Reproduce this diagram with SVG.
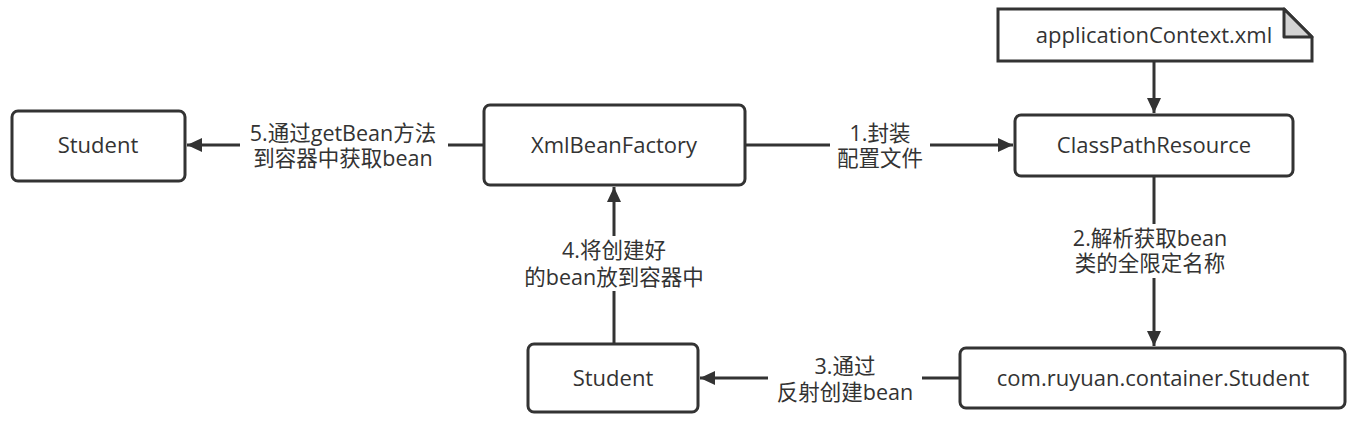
<svg xmlns="http://www.w3.org/2000/svg" width="1358" height="423" viewBox="0 0 1358 423">
<style>
.node{fill:#fff;stroke:#333;stroke-width:3}
.t{font-family:"Open Sans","Noto Sans CJK SC",sans-serif;font-size:22px;fill:#333;text-anchor:middle}
.edge{stroke:#333;stroke-width:3;fill:none}
.lbl{font-family:"Open Sans","Noto Sans CJK SC",sans-serif;font-size:21.5px;fill:#333;text-anchor:middle}
</style>
<defs>
<marker id="ah" markerUnits="userSpaceOnUse" markerWidth="16" markerHeight="16" refX="15" refY="8" orient="auto">
<path d="M0,1 L15,8 L0,15 Z" fill="#333"/>
</marker>
</defs>
<rect width="1358" height="423" fill="#fff"/>
<g id="edges">
<path class="edge" d="M1154,61 V113" marker-end="url(#ah)"/>
<path class="edge" d="M745,145 H1013" marker-end="url(#ah)"/>
<path class="edge" d="M1154,176 V346" marker-end="url(#ah)"/>
<path class="edge" d="M960,378 H700" marker-end="url(#ah)"/>
<path class="edge" d="M614,344 V187" marker-end="url(#ah)"/>
<path class="edge" d="M484,145 H187" marker-end="url(#ah)"/>
<g id="label1"><rect x="830" y="119" width="100" height="54" fill="#fff"/><text class="lbl" x="880" y="141">1.封装</text><text class="lbl" x="880" y="166">配置文件</text></g>
<g id="label2"><rect x="1060" y="224" width="186" height="54" fill="#fff"/><text class="lbl" x="1150" y="246">2.解析获取bean</text><text class="lbl" x="1150" y="271">类的全限定名称</text></g>
<g id="label3"><rect x="768" y="352" width="154" height="56" fill="#fff"/><text class="lbl" x="845" y="374">3.通过</text><text class="lbl" x="845" y="400">反射创建bean</text></g>
<g id="label4"><rect x="512" y="236" width="204" height="55" fill="#fff"/><text class="lbl" x="614" y="258">4.将创建好</text><text class="lbl" x="614" y="285">的bean放到容器中</text></g>
<g id="label5"><rect x="240" y="119" width="208" height="54" fill="#fff"/><text class="lbl" x="343" y="141">5.通过getBean方法</text><text class="lbl" x="343" y="166">到容器中获取bean</text></g>
</g>
<g id="doc">
<path class="node" d="M998,9 H1284 L1312,37 V61 H998 Z"/>
<path d="M1284,9 L1312,37 H1284 Z" fill="#d3d3d3" stroke="#333" stroke-width="3" stroke-linejoin="round"/>
<text class="t" x="1154" y="43">applicationContext.xml</text>
</g>
<g id="classpath">
<rect class="node" x="1015" y="115" width="278" height="61" rx="6"/>
<text class="t" x="1154" y="153">ClassPathResource</text>
</g>
<g id="xmlbeanfactory">
<rect class="node" x="484" y="105" width="261" height="80" rx="6"/>
<text class="t" x="614" y="153">XmlBeanFactory</text>
</g>
<g id="student1">
<rect class="node" x="12" y="111" width="173" height="70" rx="6"/>
<text class="t" x="98" y="153">Student</text>
</g>
<g id="student2">
<rect class="node" x="528" y="344" width="170" height="68" rx="6"/>
<text class="t" x="613" y="386">Student</text>
</g>
<g id="comstudent">
<rect class="node" x="960" y="348" width="385" height="60" rx="6"/>
<text class="t" x="1153" y="386">com.ruyuan.container.Student</text>
</g>
</svg>
